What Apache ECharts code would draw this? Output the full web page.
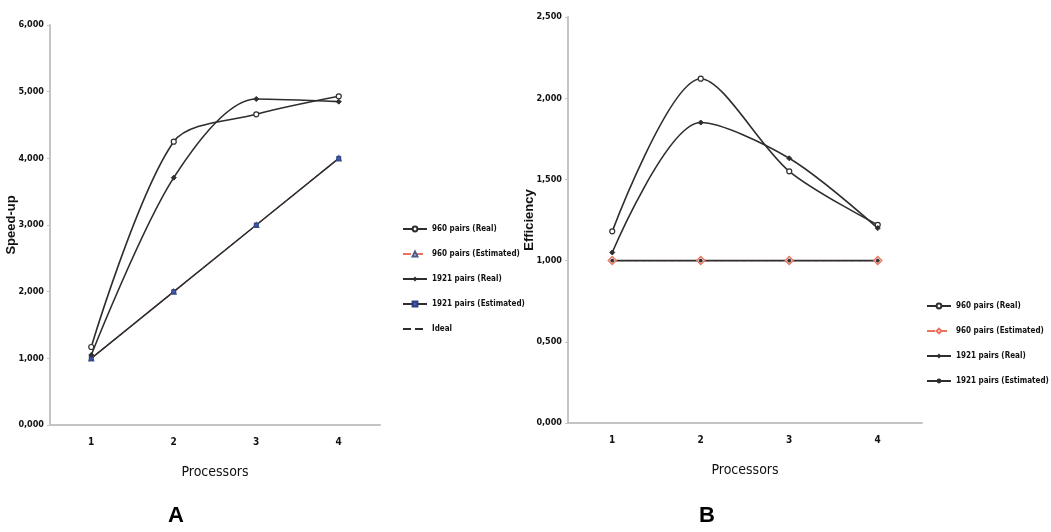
<!DOCTYPE html>
<html>
<head>
<meta charset="utf-8">
<script src="https://cdn.jsdelivr.net/npm/echarts@6/dist/echarts.min.js"></script>
<style>
  html, body { margin: 0; padding: 0; background: #fff; }
  #chart { width: 1051px; height: 532px; }
</style>
</head>
<body>
<div id="chart"></div>
<script>
// Processor counts shared by both panels
const processors = ['1', '2', '3', '4'];

// Panel A: speed-up
const speedup960Real = [1.17, 4.25, 4.66, 4.93];
const speedup960Est = [1, 2, 3, 4];
const speedup1921Real = [1.05, 3.71, 4.89, 4.85];
const speedup1921Est = [1, 2, 3, 4];
const speedupIdeal = [1, 2, 3, 4];

// Panel B: efficiency
const eff960Real = [1.18, 2.12, 1.55, 1.22];
const eff960Est = [1, 1, 1, 1];
const eff1921Real = [1.05, 1.85, 1.63, 1.20];
const eff1921Est = [1, 1, 1, 1];

const legendA = ['960 pairs (Real)', '960 pairs (Estimated)', '1921 pairs (Real)', '1921 pairs (Estimated)', 'Ideal'];
// Panel B reuses the same labels; a trailing space keeps its legend independent of panel A
const legendB = ['960 pairs (Real) ', '960 pairs (Estimated) ', '1921 pairs (Real) ', '1921 pairs (Estimated) '];

const narrow = "'Liberation Sans Narrow', 'DejaVu Sans Condensed', 'Liberation Sans', sans-serif";
const fmt = v => v.toFixed(3).replace('.', ',');

const axisGrey = '#c4c4c4';
const ink = '#2e2e2e';
const curve = 0.3;

function xAxisFor(gridIndex) {
  return {
    type: 'category', gridIndex, data: processors, boundaryGap: true,
    name: 'Processors', nameLocation: 'middle', nameGap: 40,
    nameTextStyle: { fontFamily: narrow, fontSize: 14, color: '#111' },
    axisLine: { lineStyle: { color: axisGrey, width: 2 } },
    axisTick: { length: 4, lineStyle: { color: axisGrey } },
    axisLabel: { fontFamily: narrow, fontSize: 10, fontWeight: 'bold', color: '#111', margin: 12 },
    splitLine: { show: false }
  };
}

function yAxisFor(gridIndex, name, max, interval) {
  return {
    type: 'value', gridIndex, min: 0, max, interval,
    name, nameLocation: 'middle', nameRotate: 90, nameGap: 32, nameMoveOverlap: false,
    nameTextStyle: { fontFamily: "'Liberation Sans', Arial, sans-serif", fontSize: 13, fontWeight: 'bold', color: '#111' },
    axisLine: { show: true, lineStyle: { color: axisGrey, width: 2 } },
    axisTick: { show: true, length: 3, lineStyle: { color: axisGrey } },
    axisLabel: { formatter: fmt, fontFamily: narrow, fontSize: 9, fontWeight: 'bold', color: '#111', margin: 6 },
    splitLine: { show: false }
  };
}

function line(name, data, xi, opts) {
  return Object.assign({
    type: 'line', name, data, xAxisIndex: xi, yAxisIndex: xi,
    smooth: false, symbolSize: 5,
    lineStyle: { color: ink, width: 1.6 },
    itemStyle: { color: '#fff', borderColor: ink, borderWidth: 1.2 },
    emphasis: { disabled: true }
  }, opts);
}

const legendText = { fontFamily: narrow, fontSize: 8, fontWeight: 'bold', color: '#111' };

const option = {
  animation: false,
  backgroundColor: '#fff',
  grid: [
    { left: 50, top: 25, width: 330, height: 400 },
    { left: 568, top: 17, width: 354, height: 406 }
  ],
  xAxis: [xAxisFor(0), xAxisFor(1)],
  yAxis: [yAxisFor(0, 'Speed-up', 6, 1), yAxisFor(1, 'Efficiency', 2.5, 0.5)],
  legend: [
    {
      data: legendA.slice(0, 4).concat([{ name: legendA[4], itemStyle: { opacity: 0 } }]),
      orient: 'vertical', left: 397, top: 220, itemWidth: 24, itemHeight: 6, itemGap: 17, textStyle: legendText
    },
    { data: legendB, orient: 'vertical', left: 921, top: 297, itemWidth: 24, itemHeight: 6, itemGap: 17, textStyle: legendText }
  ],
  series: [
    line(legendA[1], speedup960Est, 0, { symbol: 'triangle', lineStyle: { color: '#e8735e', width: 1.2, type: 'dashed' }, itemStyle: { color: '#fff', borderColor: '#4a5a8a', borderWidth: 1.2 } }),
    line(legendA[3], speedup1921Est, 0, { symbol: 'rect', symbolSize: 4, itemStyle: { color: '#4058a8', borderColor: '#2c3e80', borderWidth: 1 } }),
    line(legendA[4], speedupIdeal, 0, { symbol: 'none', lineStyle: { color: ink, width: 1, type: 'dashed' } }),
    line(legendA[0], speedup960Real, 0, { symbol: 'circle', smooth: curve }),
    line(legendA[2], speedup1921Real, 0, { symbol: 'diamond', smooth: curve, itemStyle: { color: ink, borderColor: ink } }),

    line(legendB[1], eff960Est, 1, { symbol: 'diamond', symbolSize: 8, lineStyle: { color: '#e8735e', width: 1.2, type: 'dashed' }, itemStyle: { color: '#fff', borderColor: '#e8735e', borderWidth: 1.4 } }),
    line(legendB[3], eff1921Est, 1, { symbol: 'circle', symbolSize: 3, itemStyle: { color: ink, borderColor: ink } }),
    line(legendB[0], eff960Real, 1, { symbol: 'circle', smooth: curve }),
    line(legendB[2], eff1921Real, 1, { symbol: 'diamond', smooth: curve, itemStyle: { color: ink, borderColor: ink } })
  ],
  graphic: [
    { type: 'text', left: 168, top: 505, style: { text: 'A', font: "bold 22px 'Liberation Sans', Arial, sans-serif", fill: '#000' } },
    { type: 'text', left: 699, top: 505, style: { text: 'B', font: "bold 22px 'Liberation Sans', Arial, sans-serif", fill: '#000' } }
  ]
};

const chart = echarts.init(document.getElementById('chart'), null, { renderer: 'canvas' });
chart.setOption(option);
</script>
</body>
</html>
